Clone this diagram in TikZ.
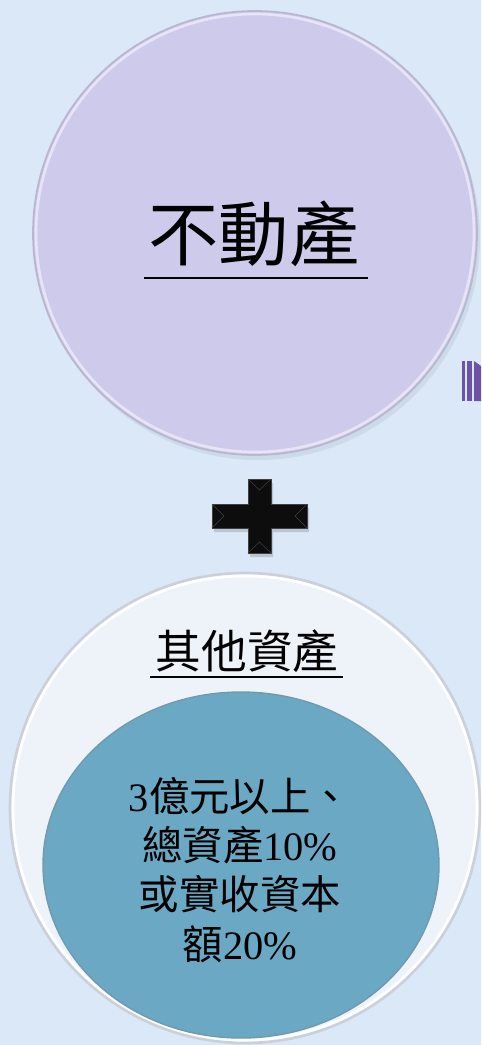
\documentclass[tikz,border=0pt]{standalone}
\usepackage{fontspec}
\setmainfont{Liberation Serif}
\newfontfamily\cjk{Noto Sans CJK TC}
\usetikzlibrary{positioning}
\definecolor{bgblue}{HTML}{DAE8F7}
\definecolor{lilac}{HTML}{CECAEB}
\definecolor{lilacedge}{HTML}{B9B6D2}
\definecolor{paleshell}{HTML}{EEF3FA}
\definecolor{shelledge}{HTML}{CBD0DA}
\definecolor{tealblue}{HTML}{6AA8C4}
\definecolor{tealedge}{HTML}{6F9AB0}
\definecolor{barpurple}{HTML}{6E52A6}
\begin{document}
\begin{tikzpicture}[x=0.02cm,y=-0.02cm,
  bigtitle/.style={font=\cjk\fontsize{40}{48}\selectfont, inner sep=0pt},
  subtitle/.style={font=\cjk\fontsize{26}{30}\selectfont, inner sep=0pt},
  rule/.style={line width=1.1pt},
  body/.style={font=\fontsize{23}{28}\selectfont, align=center, inner sep=0pt}]
\useasboundingbox (0,0) rectangle (481,1045);
\clip (0,0) rectangle (481,1045);
\fill[bgblue] (0,0) rectangle (481,1045);

% upper disc
\fill[black,opacity=.06] (258,238) circle (222);
\draw[fill=lilac,draw=lilacedge,line width=1pt] (255,233) circle (222);
\draw[white,opacity=.5,line width=1.5pt] (255,233) circle (219);
\node[bigtitle] (realty) at (254,234) {不動產};
\draw[rule] (144,278) -- (368,278);

% striped arrow stub
\fill[barpurple] (462,361) rectangle (465,401);
\fill[barpurple] (467,361) rectangle (472,401);
\fill[barpurple] (474,361) -- (481,366) -- (481,401) -- (474,401) -- cycle;

% plus sign
\fill[black,opacity=.15] (214,508) -- (250,508) -- (250,483) -- (273,483) -- (273,508)
  -- (309,508) -- (309,532) -- (273,532) -- (273,557) -- (250,557) -- (250,532)
  -- (214,532) -- cycle;
\draw[fill=black!95,draw=black!75] (212,504) -- (248,504) -- (248,479) -- (271,479) -- (271,504)
  -- (307,504) -- (307,528) -- (271,528) -- (271,553) -- (248,553) -- (248,528)
  -- (212,528) -- cycle;
\draw[black!75,line width=.3pt] (248,479) -- (259.5,490) -- (271,479)
  (212,504) -- (224,516) -- (212,528) (307,504) -- (295,516) -- (307,528)
  (248,553) -- (259.5,542) -- (271,553);

% lower discs
\draw[fill=paleshell,draw=shelledge,line width=1.5pt] (245,808) circle (235);
\draw[white,line width=1.5pt] (245,808) circle (232);
\node[subtitle] (others) at (247,651) {其他資產};
\draw[rule] (150,677) -- (343,677);
\draw[fill=tealblue,draw=tealedge,line width=.8pt] (241,865) ellipse (198 and 173);
\node[body] (threshold) at (240,870)
  {3{\cjk 億元以上、}\\{\cjk 總資產}10\%\\{\cjk 或實收資本}\\{\cjk 額}20\%};
\end{tikzpicture}
\end{document}
